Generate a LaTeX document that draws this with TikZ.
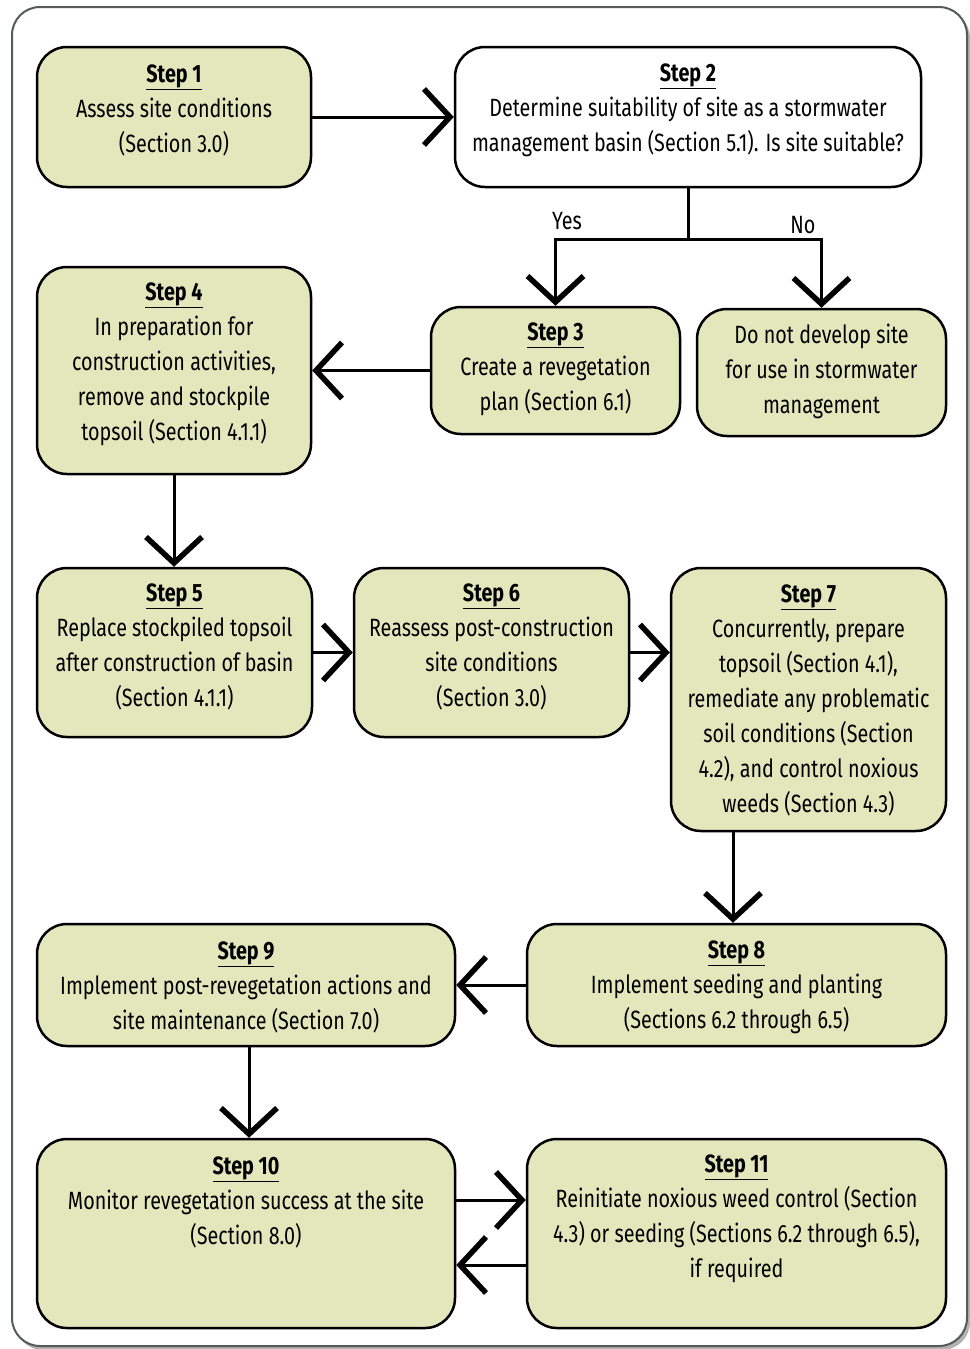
\documentclass[tikz,border=0pt]{standalone}
\usepackage{fontspec}
\setmainfont{Fira Sans}[FakeStretch=0.79]
\usetikzlibrary{arrows.meta,calc}
\definecolor{boxfill}{HTML}{E2E8BC}
\definecolor{framegray}{HTML}{555A5A}
\newcommand{\hd}[1]{\underline{\textbf{#1}}}
\tikzset{
  box/.style={draw=black, line width=2.5pt, rounded corners=30pt, fill=boxfill, inner sep=0pt},
  wbox/.style={box, fill=white},
  txt/.style={align=center, inner sep=0pt, font=\fontsize{25}{35}\selectfont},
  conn/.style={line width=3pt},
  arr/.style={line width=3pt, -{Straight Barb[length=26pt, width=56pt, line width=2.5pt 1]}},
  lab/.style={inner sep=0pt, font=\fontsize{25}{30}\selectfont}
}
\begin{document}
\begin{tikzpicture}[x=1pt,y=-1pt]
\useasboundingbox (0,0) rectangle (969,1349);
% outer frame
\fill[gray!60, rounded corners=28pt] (15,10) rectangle (970,1350);
\draw[framegray, line width=2pt, fill=white, rounded corners=28pt] (12,7) rectangle (967,1346);

% boxes
\node[box, minimum width=274pt, minimum height=140pt] (s1) at (174,117) {};
\node[wbox, minimum width=466pt, minimum height=140pt] (s2) at (688,117) {};
\node[box, minimum width=274pt, minimum height=207pt] (s4) at (174,370.5) {};
\node[box, minimum width=249pt, minimum height=127pt] (s3) at (555.5,370.5) {};
\node[box, minimum width=249pt, minimum height=127pt] (no) at (821.5,372.5) {};
\node[box, minimum width=275pt, minimum height=169pt] (s5) at (174.5,652.5) {};
\node[box, minimum width=275pt, minimum height=169pt] (s6) at (491.5,652.5) {};
\node[box, minimum width=275pt, minimum height=263pt] (s7) at (808.5,699.5) {};
\node[box, minimum width=418pt, minimum height=122pt] (s9) at (246,985) {};
\node[box, minimum width=419pt, minimum height=122pt] (s8) at (736.5,985) {};
\node[box, minimum width=418pt, minimum height=189pt] (s10) at (246,1233.5) {};
\node[box, minimum width=419pt, minimum height=189pt] (s11) at (736.5,1233.5) {};

% texts
\node[txt] (t1) at (174,110) {\hd{Step 1}\\Assess site conditions\\(Section 3.0)};
\node[txt] (t2) at (688,110) {\hd{Step 2}\\Determine suitability of site as a stormwater\\management basin (Section 5.1). Is site suitable?};
\node[txt] (t4) at (174,364) {\hd{Step 4}\\In preparation for\\construction activities,\\remove and stockpile\\topsoil (Section 4.1.1)};
\node[txt] (t3) at (555.5,369) {\hd{Step 3}\\Create a revegetation\\plan (Section 6.1)};
\node[txt] (tno) at (821.5,371) {Do not develop site\\for use in stormwater\\management};
\node[txt] (t5) at (174.5,647) {\hd{Step 5}\\Replace stockpiled topsoil\\after construction of basin\\(Section 4.1.1)};
\node[txt] (t6) at (491.5,647) {\hd{Step 6}\\Reassess post-construction\\site conditions\\(Section 3.0)};
\node[txt] (t7) at (808.5,700) {\hd{Step 7}\\Concurrently, prepare\\topsoil (Section 4.1),\\remediate any problematic\\soil conditions (Section\\4.2), and control noxious\\weeds (Section 4.3)};
\node[txt] (t9) at (246,987) {\hd{Step 9}\\Implement post-revegetation actions and\\site maintenance (Section 7.0)};
\node[txt] (t8) at (736.5,987) {\hd{Step 8}\\Implement seeding and planting\\(Sections 6.2 through 6.5)};
\node[txt] (t10) at (246,1202) {\hd{Step 10}\\Monitor revegetation success at the site\\(Section 8.0)};
\node[txt] (t11) at (736.5,1219) {\hd{Step 11}\\Reinitiate noxious weed control (Section\\4.3) or seeding (Sections 6.2 through 6.5),\\if required};

% connectors
\draw[arr] (s1) -- (s2);
\coordinate (br) at (688,239);
\draw[conn] (s2.south) -- (br);
\draw[arr] (br) -| (s3.north);
\draw[arr] (br) -| (no.north);
\node[lab] (yes) at (567,221) {Yes};
\node[lab] (nolab) at (803,225) {No};
\draw[arr] (s3) -- (s4);
\draw[arr] (s4.south) -- (s4.south |- s5.north);
\draw[arr] (s5) -- (s6);
\draw[arr] (s6.east) -- (s6.east -| s7.west);
\draw[arr] (s7.south -| 733,0) -- (s8.north -| 733,0);
\draw[arr] (s8) -- (s9);
\draw[arr] (s9.south -| 249,0) -- (s10.north -| 249,0);
\draw[arr] ([yshift=33.5pt]s10.east) -- ([yshift=33.5pt]s11.west);
\draw[arr] ([yshift=-31.5pt]s11.west) -- ([yshift=-31.5pt]s10.east);
\end{tikzpicture}
\end{document}
